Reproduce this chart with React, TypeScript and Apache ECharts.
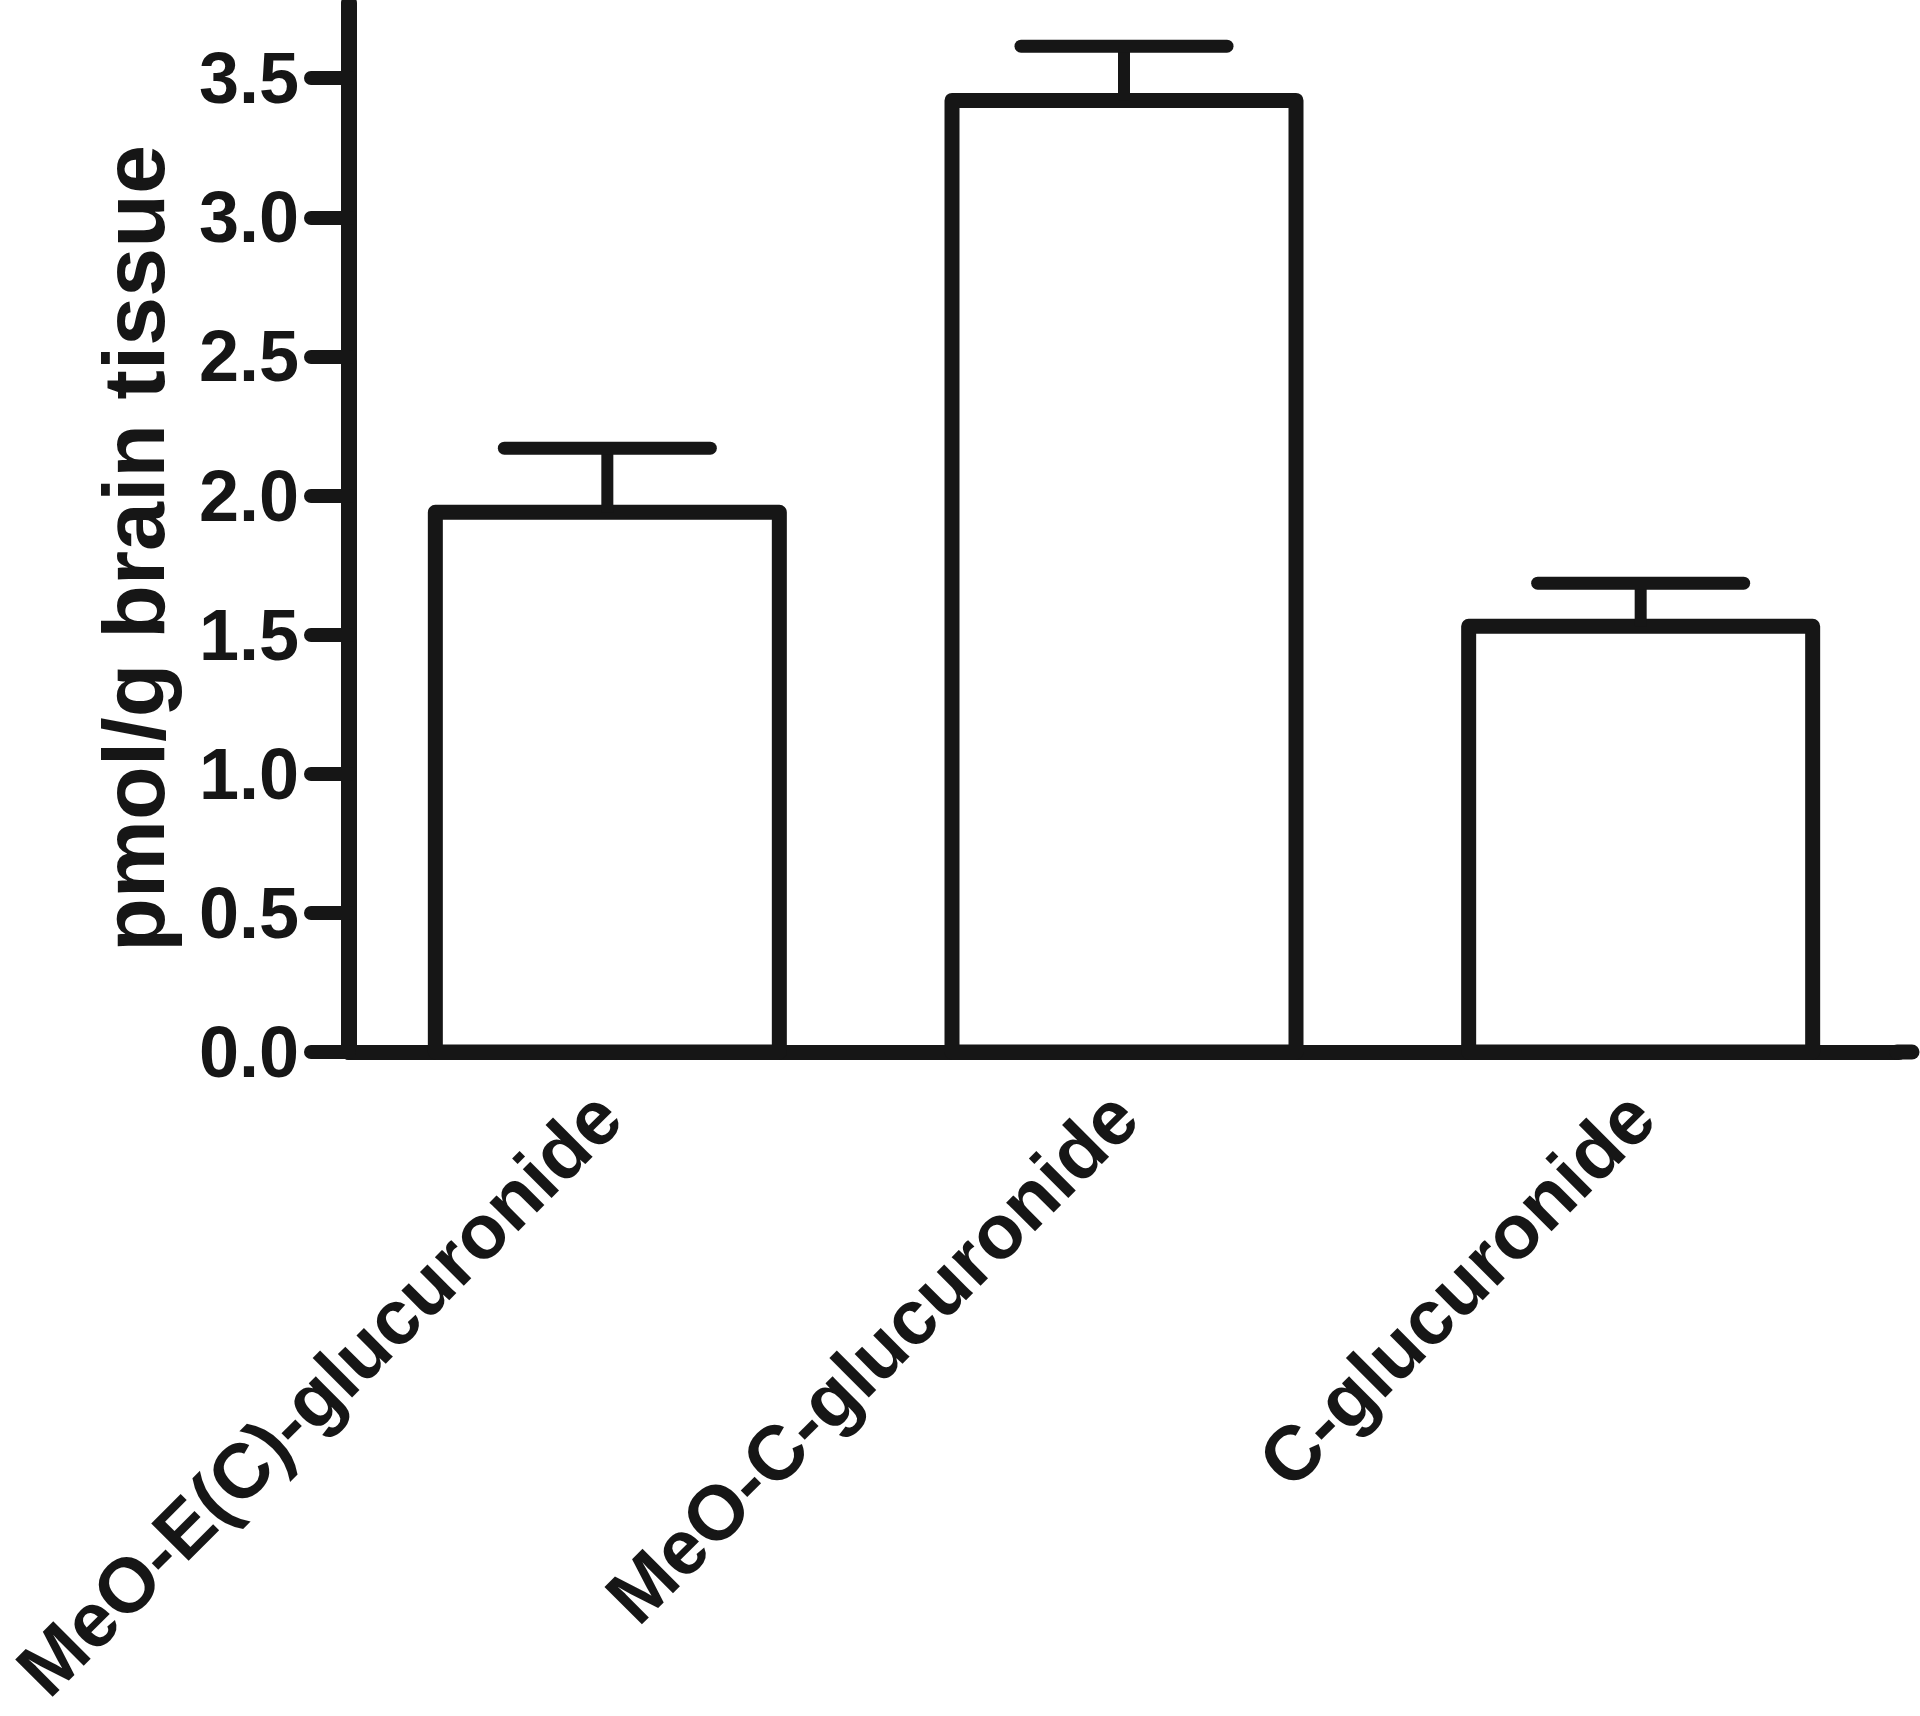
import React, { useEffect, useRef } from "react";
import * as echarts from "echarts";

const categories = ["MeO-E(C)-glucuronide", "MeO-C-glucuronide", "C-glucuronide"];
const means = [1.94, 3.42, 1.53];
const errors = [0.23, 0.195, 0.155];
const yTicks = [0, 0.5, 1.0, 1.5, 2.0, 2.5, 3.0, 3.5];
const yAxisTitle = "pmol/g brain tissue";

const INK = "#161616";
const FONT = "'Liberation Sans', Arial, Helvetica, sans-serif";

const GRID_LEFT = 349;
const GRID_TOP = 3;
const GRID_W = 1550;
const GRID_H = 1049;

export default function App() {
  const ref = useRef<HTMLDivElement>(null);

  useEffect(() => {
    if (!ref.current) return;
    const chart = echarts.init(ref.current, undefined, { renderer: "svg" });
    const barData = categories.map((_, i) => [i, means[i]]);
    const errData = categories.map((_, i) => [i, means[i], means[i] + errors[i]]);

    chart.setOption({
      animation: false,
      backgroundColor: "#ffffff",
      grid: {
        left: GRID_LEFT,
        top: GRID_TOP,
        width: GRID_W,
        height: GRID_H,
        containLabel: false,
        outerBoundsMode: "none",
      },
      graphic: [
        {
          type: "line",
          z: 5,
          shape: {
            x1: GRID_LEFT + GRID_W - 2,
            y1: GRID_TOP + GRID_H,
            x2: 1912,
            y2: GRID_TOP + GRID_H,
          },
          style: { stroke: INK, lineWidth: 15, lineCap: "round" },
        },
      ],
      xAxis: {
        type: "category",
        data: categories,
        boundaryGap: true,
        axisLine: { show: true, lineStyle: { color: INK, width: 15, cap: "round" } },
        axisTick: { show: false },
        axisLabel: {
          rotate: 45,
          margin: 52,
          interval: 0,
          color: INK,
          fontFamily: FONT,
          fontWeight: "bold",
          fontSize: 77,
        },
        splitLine: { show: false },
        z: 1,
      },
      yAxis: {
        type: "value",
        min: 0,
        max: 3.77,
        name: yAxisTitle,
        nameLocation: "middle",
        nameRotate: 90,
        nameGap: 172,
        nameTextStyle: {
          color: INK,
          fontFamily: FONT,
          fontWeight: "bold",
          fontSize: 88,
          padding: [0, 42, 0, 0],
        },
        axisLine: { show: true, lineStyle: { color: INK, width: 16, cap: "round" } },
        axisTick: {
          show: true,
          length: 38,
          customValues: yTicks,
          lineStyle: { color: INK, width: 14, cap: "round" },
        },
        axisLabel: {
          customValues: yTicks,
          margin: 50,
          color: INK,
          fontFamily: FONT,
          fontWeight: "bold",
          fontSize: 72,
          formatter: (v: number) => v.toFixed(1),
        },
        splitLine: { show: false },
        z: 1,
      },
      series: [
        {
          type: "custom",
          name: "mean",
          data: barData,
          z: 2,
          renderItem: (params: any, api: any) => {
            const top = api.coord([api.value(0), api.value(1)]);
            const base = api.coord([api.value(0), 0]);
            const w = 344;
            return {
              type: "rect",
              shape: { x: top[0] - w / 2, y: top[1], width: w, height: base[1] - top[1] },
              style: { fill: "#ffffff", stroke: INK, lineWidth: 15, lineJoin: "round" },
            };
          },
        },
        {
          type: "custom",
          name: "error",
          data: errData,
          z: 3,
          renderItem: (params: any, api: any) => {
            const base = api.coord([api.value(0), api.value(1)]);
            const top = api.coord([api.value(0), api.value(2)]);
            const half = 103;
            return {
              type: "group",
              children: [
                {
                  type: "line",
                  shape: { x1: base[0], y1: base[1], x2: top[0], y2: top[1] },
                  style: { stroke: INK, lineWidth: 12 },
                },
                {
                  type: "line",
                  shape: { x1: top[0] - half, y1: top[1], x2: top[0] + half, y2: top[1] },
                  style: { stroke: INK, lineWidth: 13, lineCap: "round" },
                },
              ],
            };
          },
        },
      ],
    });

    return () => chart.dispose();
  }, []);

  return (
    <div
      ref={ref}
      style={{ position: "fixed", left: 0, top: 0, width: 1920, height: 1716, background: "#fff" }}
    />
  );
}
